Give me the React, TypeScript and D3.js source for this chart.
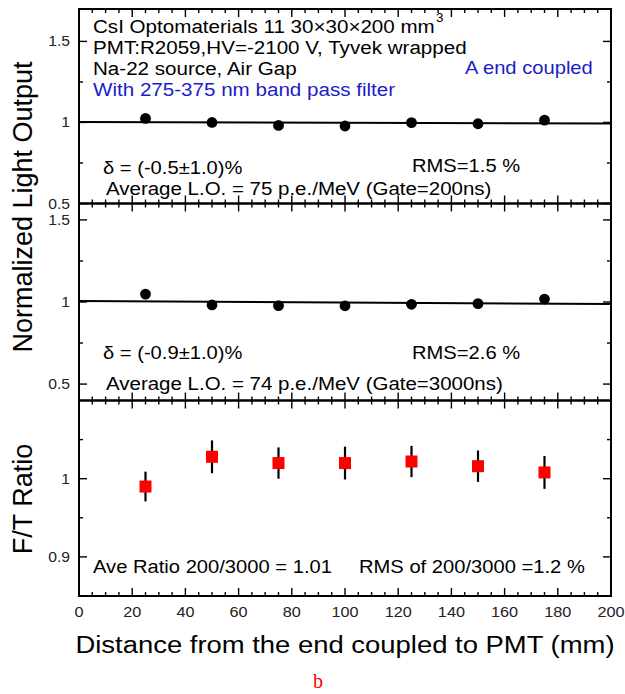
import React from "react";
import * as d3 from "d3";

// Source positions along the crystal (mm)
const positions = [25, 50, 75, 100, 125, 150, 175];
// Normalized light output, 200 ns gate
const lightOutput200 = [1.025, 1.0, 0.982, 0.978, 0.999, 0.992, 1.014];
// Normalized light output, 3000 ns gate
const lightOutput3000 = [1.048, 0.982, 0.978, 0.977, 0.986, 0.99, 1.018];
// Fast/total ratio (200/3000) with errors
const ftRatio = [0.99, 1.028, 1.02, 1.02, 1.022, 1.016, 1.008];
const ftRatioErr = [0.019, 0.021, 0.02, 0.021, 0.02, 0.02, 0.021];

const xTickLabels = [0, 20, 40, 60, 80, 100, 120, 140, 160, 180, 200];
const loMajorTicks = [0.5, 1, 1.5];
const loMinorTicks = [0.75, 1.25];
const ratioMajorTicks = [0.9, 1];
const ratioMinorTicks = [0.95, 1.05];

const W = 625;
const H = 694;
const FONT = "'Liberation Sans', Arial, Helvetica, sans-serif";
const SX = 1.12; // horizontal stretch of the label lettering
const BLUE = "#1c1cc8";

const x = d3.scaleLinear().domain([0, 200]).range([79, 611]);

type Panel = {
  y: d3.ScaleLinear<number, number>;
  top: number;
  bottom: number;
  major: number[];
  minor: number[];
};

const panels: Panel[] = [
  { y: d3.scaleLinear().domain([0.5, 1.7]).range([203.5, 9]), top: 9, bottom: 203.5, major: loMajorTicks, minor: loMinorTicks },
  { y: d3.scaleLinear().domain([0.4, 1.6]).range([400.5, 203.5]), top: 203.5, bottom: 400.5, major: loMajorTicks, minor: loMinorTicks },
  { y: d3.scaleLinear().domain([0.85, 1.1]).range([596, 400.5]), top: 400.5, bottom: 596, major: ratioMajorTicks, minor: ratioMinorTicks },
];

function linearFit(xs: number[], ys: number[]) {
  const mx = d3.mean(xs) as number;
  const my = d3.mean(ys) as number;
  const sxy = d3.sum(xs, (v, i) => (v - mx) * (ys[i] - my));
  const sxx = d3.sum(xs, (v) => (v - mx) ** 2);
  const slope = sxy / sxx;
  return (v: number) => my + slope * (v - mx);
}

function Label(props: {
  x: number;
  y: number;
  size?: number;
  fill?: string;
  anchor?: string;
  children: React.ReactNode;
}) {
  const { x: tx, y: ty, size = 18, fill = "#000", anchor = "start", children } = props;
  return (
    <text
      transform={`translate(${tx},${ty}) scale(${SX},1)`}
      fontSize={size}
      fill={fill}
      textAnchor={anchor}
      fontFamily={FONT}
    >
      {children}
    </text>
  );
}

function Frame({ p, tickLabels }: { p: Panel; tickLabels: boolean }) {
  const xMinor = d3.range(5, 200, 5);
  const [x0, x1] = x.range();
  return (
    <g>
      {xMinor.map((v) => {
        const len = v % 20 === 0 ? 8 : 4;
        return (
          <g key={v} stroke="#000" strokeWidth={1.4}>
            <line x1={x(v)} x2={x(v)} y1={p.top} y2={p.top + len} />
            <line x1={x(v)} x2={x(v)} y1={p.bottom} y2={p.bottom - len} />
          </g>
        );
      })}
      {[...p.major.map((v) => [v, 8]), ...p.minor.map((v) => [v, 4])].map(([v, len]) => (
        <g key={`y${v}`} stroke="#000" strokeWidth={1.4}>
          <line x1={x0} x2={x0 + len} y1={p.y(v)} y2={p.y(v)} />
          <line x1={x1} x2={x1 - len} y1={p.y(v)} y2={p.y(v)} />
        </g>
      ))}
      <rect x={x0} y={p.top} width={x1 - x0} height={p.bottom - p.top} fill="none" stroke="#000" strokeWidth={2} />
      {tickLabels &&
        p.major.map((v) => (
          <Label key={`l${v}`} x={70} y={p.y(v) + 5} size={14} anchor="end" fill="#222">
            {String(v)}
          </Label>
        ))}
    </g>
  );
}

export default function App() {
  const [p1, p2, p3] = panels;
  const fit200 = linearFit(positions, lightOutput200);
  const fit3000 = linearFit(positions, lightOutput3000);
  const fitLine = (p: Panel, f: (v: number) => number) =>
    d3.line<number>().x((v) => x(v)).y((v) => p.y(f(v)))([0, 200]) as string;

  return (
    <svg
      width={W}
      height={H}
      viewBox={`0 0 ${W} ${H}`}
      style={{ position: "absolute", left: 0, top: 0, background: "#fff" }}
    >
      <rect width={W} height={H} fill="#fff" />
      {panels.map((p, i) => (
        <Frame key={i} p={p} tickLabels />
      ))}

      {/* Panel 1: 200 ns gate */}
      <path d={fitLine(p1, fit200)} fill="none" stroke="#000" strokeWidth={2} />
      {positions.map((v, i) => (
        <circle key={`a${v}`} cx={x(v)} cy={p1.y(lightOutput200[i])} r={5.4} fill="#000" />
      ))}
      <Label x={93} y={33} size={18.4}>CsI Optomaterials 11 30×30×200 mm</Label>
      <Label x={436} y={22} size={12}>3</Label>
      <Label x={93} y={54} size={18.4}>PMT:R2059,HV=-2100 V, Tyvek wrapped</Label>
      <Label x={93} y={74.5} size={18.4}>Na-22 source, Air Gap</Label>
      <Label x={93} y={96} size={18.4} fill={BLUE}>With 275-375 nm band pass filter</Label>
      <Label x={465} y={74} fill={BLUE}>A end coupled</Label>
      <Label x={103} y={174}>δ = (-0.5±1.0)%</Label>
      <Label x={412} y={172}>RMS=1.5 %</Label>
      <Label x={106} y={195} size={18.3}>Average L.O. = 75 p.e./MeV (Gate=200ns)</Label>

      {/* Panel 2: 3000 ns gate */}
      <path d={fitLine(p2, fit3000)} fill="none" stroke="#000" strokeWidth={2} />
      {positions.map((v, i) => (
        <circle key={`b${v}`} cx={x(v)} cy={p2.y(lightOutput3000[i])} r={5.4} fill="#000" />
      ))}
      <Label x={103} y={359}>δ = (-0.9±1.0)%</Label>
      <Label x={412} y={359}>RMS=2.6 %</Label>
      <Label x={106} y={390} size={18.3}>Average L.O. = 74 p.e./MeV (Gate=3000ns)</Label>

      {/* Panel 3: fast/total ratio */}
      {positions.map((v, i) => (
        <g key={`c${v}`}>
          <line
            x1={x(v)}
            x2={x(v)}
            y1={p3.y(ftRatio[i] - ftRatioErr[i])}
            y2={p3.y(ftRatio[i] + ftRatioErr[i])}
            stroke="#000"
            strokeWidth={2.2}
          />
          <rect x={x(v) - 6} y={p3.y(ftRatio[i]) - 6} width={12} height={12} fill="#ff0000" />
        </g>
      ))}
      <Label x={93} y={573}>Ave Ratio 200/3000 = 1.01</Label>
      <Label x={359} y={573}>RMS of 200/3000 =1.2 %</Label>

      {/* X axis labels */}
      {xTickLabels.map((v) => (
        <Label key={`x${v}`} x={x(v)} y={617} size={14.5} anchor="middle" fill="#222">
          {String(v)}
        </Label>
      ))}
      <Label x={345} y={653} size={24.5} anchor="middle">
        Distance from the end coupled to PMT (mm)
      </Label>

      {/* Y axis titles */}
      <text
        transform="translate(31.5,207) rotate(-90)"
        fontSize={27}
        textAnchor="middle"
        fontFamily={FONT}
      >
        Normalized Light Output
      </text>
      <text
        transform="translate(31.5,499) rotate(-90)"
        fontSize={27}
        textAnchor="middle"
        fontFamily={FONT}
      >
        F/T Ratio
      </text>

      <text x={318} y={688} fontSize={20} fill="#ff0000" textAnchor="middle" fontFamily="'Liberation Serif', 'Times New Roman', serif">
        b
      </text>
    </svg>
  );
}
